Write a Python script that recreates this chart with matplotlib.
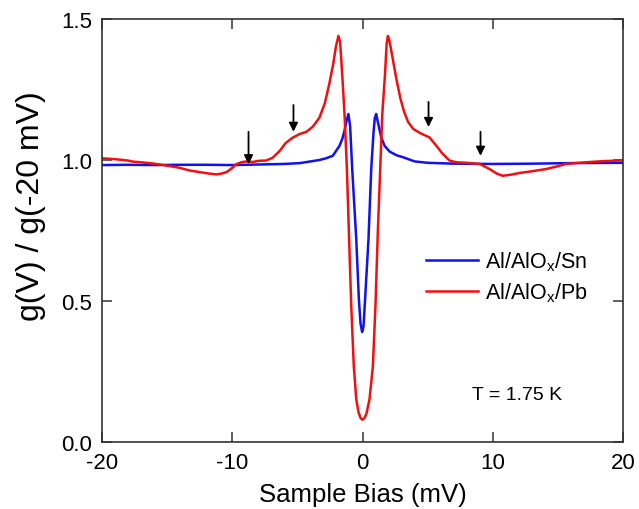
import matplotlib
matplotlib.use("Agg")
import matplotlib.pyplot as plt

# Al/AlOx/Sn junction (blue)
sn_bias = [-20, -18, -16, -14, -12, -10, -8, -6, -4.8, -3.3, -2.8, -2.28, -1.77,
           -1.55, -1.38, -1.22, -1.08, -0.95, -0.79, -0.63, -0.48, -0.28, -0.15,
           -0.03, 0.08, 0.2, 0.46, 0.67, 0.85, 0.95, 1.05, 1.2, 1.44, 1.7, 2.08,
           2.6, 3.1, 4, 5, 7, 10, 13, 16, 20]
sn_g = [0.982, 0.983, 0.982, 0.983, 0.983, 0.982, 0.984, 0.986, 0.989, 1.0,
        1.006, 1.015, 1.05, 1.075, 1.104, 1.14, 1.163, 1.12, 0.968, 0.84, 0.72,
        0.507, 0.42, 0.39, 0.41, 0.507, 0.72, 0.968, 1.1, 1.15, 1.163, 1.13,
        1.08, 1.05, 1.03, 1.017, 1.01, 0.995, 0.99, 0.987, 0.986, 0.987, 0.989,
        0.99]

# Al/AlOx/Pb junction (red)
pb_bias = [-20, -19, -18, -17.6, -17, -16, -15, -14, -13.3, -12.5, -11.8, -11.2,
           -10.8, -10.4, -10.0, -9.7, -9.3, -8.9, -8.4, -8.0, -7.4, -6.9, -6.4,
           -5.9, -5.4, -4.84, -4.3, -3.82, -3.31, -2.9, -2.55, -2.25, -2.05,
           -1.85, -1.72, -1.56, -1.38, -1.2, -0.87, -0.67, -0.48, -0.31, -0.15,
           0, 0.15, 0.3, 0.54, 0.8, 1.0, 1.18, 1.36, 1.52, 1.73, 1.85, 1.95,
           2.06, 2.2, 2.59, 2.9, 3.2, 3.5, 3.9, 4.4, 5.15, 5.66, 6.17, 6.68,
           7.2, 8.0, 9.0, 9.75, 10.3, 10.78, 11.4, 12.06, 13, 14.1, 15, 15.6,
           16.66, 17.5, 18.5, 19.2, 20]
pb_g = [1.006, 1.003, 0.998, 0.994, 0.992, 0.987, 0.980, 0.972, 0.963, 0.957,
        0.952, 0.949, 0.952, 0.958, 0.972, 0.985, 0.992, 0.995, 0.993, 0.997,
        0.998, 1.008, 1.03, 1.06, 1.078, 1.092, 1.10, 1.118, 1.15, 1.2, 1.27,
        1.34, 1.40, 1.44, 1.42, 1.305, 1.163, 0.97, 0.49, 0.27, 0.152, 0.106,
        0.085, 0.079, 0.085, 0.10, 0.152, 0.27, 0.49, 0.75, 0.968, 1.163,
        1.305, 1.41, 1.44, 1.425, 1.39, 1.29, 1.22, 1.17, 1.135, 1.11,
        1.096, 1.080, 1.051, 1.021, 0.998, 0.992, 0.99, 0.986, 0.968, 0.952,
        0.944, 0.948, 0.954, 0.96, 0.968, 0.978, 0.986, 0.99, 0.993, 0.996,
        0.997, 0.999]

# arrows marking phonon features
arrow_bias = [-8.75, -5.3, 5.07, 9.06]
arrow_tail = [1.10, 1.195, 1.206, 1.10]
arrow_head = [0.985, 1.10, 1.117, 1.015]

plt.rcParams["font.family"] = ["Liberation Sans", "DejaVu Sans"]
plt.rcParams["axes.unicode_minus"] = False
plt.rcParams["mathtext.default"] = "regular"

fig = plt.figure(figsize=(6.39, 5.10), dpi=100)
ax = fig.add_axes([102 / 639, 67 / 510, 521 / 639, 423 / 510])

ax.plot(sn_bias, sn_g, color="#1010f0", lw=1.8, label="Al/AlO$_{x}$/Sn")
ax.plot(pb_bias, pb_g, color="#f01010", lw=1.8, label="Al/AlO$_{x}$/Pb")

for xb, yt, yh in zip(arrow_bias, arrow_tail, arrow_head):
    ax.annotate("", xy=(xb, yh), xytext=(xb, yt),
                arrowprops=dict(arrowstyle="-|>", color="black", lw=1.3,
                                mutation_scale=13, shrinkA=0, shrinkB=0))

ax.set_xlim(-20, 20)
ax.set_ylim(0, 1.5)
ax.set_xticks([-20, -10, 0, 10, 20])
ax.set_yticks([0.0, 0.5, 1.0, 1.5])
ax.set_yticklabels(["0.0", "0.5", "1.0", "1.5"])
ax.tick_params(direction="in", length=7, width=1.1, top=True, right=True,
               labelsize=16, pad=7, color="#333333")
for s in ax.spines.values():
    s.set_linewidth(1.2)
    s.set_color("#333333")

ax.set_xlabel("Sample Bias (mV)", fontsize=18.5)
ax.set_ylabel("g(V) / g(-20 mV)", fontsize=23)
ax.xaxis.set_label_coords(0.5, -0.095)
ax.yaxis.set_label_coords(-0.108, 0.56)

ax.legend(loc="upper left", bbox_to_anchor=(0.621, 0.455), frameon=False,
          fontsize=15.5, handlelength=2.45, handletextpad=0.3, labelspacing=0.35,
          borderpad=0, borderaxespad=0)
ax.text(0.797, 0.113, "T = 1.75 K", transform=ax.transAxes, fontsize=14,
        ha="center", va="center")

fig.savefig("out.png", dpi=100)
